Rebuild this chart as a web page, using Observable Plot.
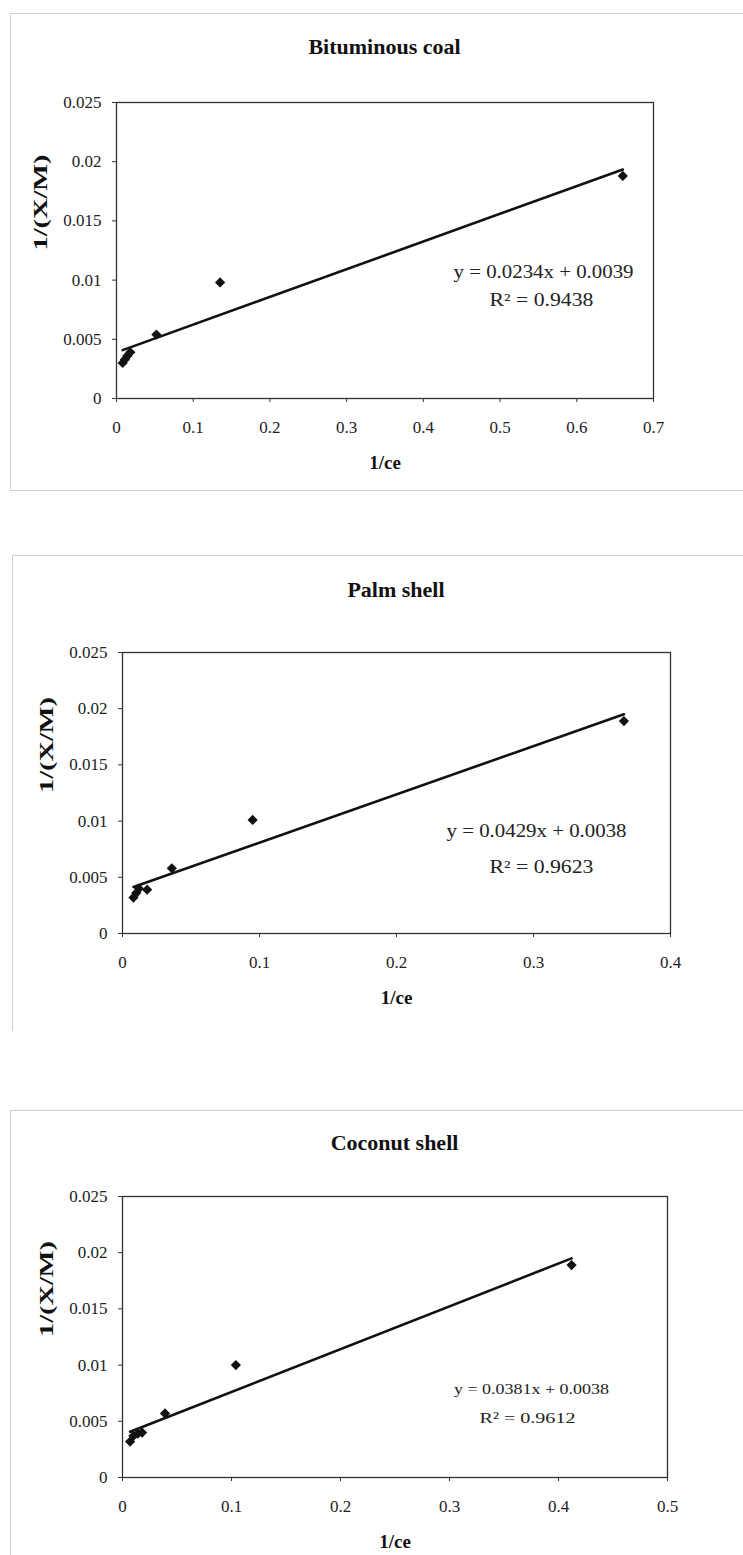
<!DOCTYPE html>
<html>
<head>
<meta charset="utf-8">
<script src="https://cdn.jsdelivr.net/npm/d3@7"></script>
<script src="https://cdn.jsdelivr.net/npm/@observablehq/plot@0.6"></script>
<style>
  html, body { margin: 0; padding: 0; background: #fff; }
  body { width: 743px; height: 1555px; position: relative; overflow: hidden; font-family: "Liberation Serif", "DejaVu Serif", serif; }
  .panel { position: absolute; border-top: 1px solid #cfcfcf; border-left: 1px solid #cfcfcf; }
  .title { position: absolute; font-weight: bold; font-size: 22px; color: #111; transform: translate(-50%, -50%); white-space: nowrap; }
  svg { overflow: visible; }
  svg text { font-family: "Liberation Serif", "DejaVu Serif", serif !important; font-variant: normal !important; }
</style>
</head>
<body>
<script>
// ---------- data ----------
const titles = ["Bituminous coal", "Palm shell", "Coconut shell"];

const coalX = [0.008, 0.011, 0.014, 0.018, 0.052, 0.135, 0.660];
const coalY = [0.0030, 0.0033, 0.0036, 0.0039, 0.0054, 0.0098, 0.0188];

const palmX = [0.008, 0.010, 0.012, 0.018, 0.036, 0.095, 0.366];
const palmY = [0.0032, 0.0036, 0.0040, 0.0039, 0.0058, 0.0101, 0.0189];

const cocoX = [0.007, 0.010, 0.014, 0.018, 0.039, 0.104, 0.412];
const cocoY = [0.0032, 0.0037, 0.0039, 0.0040, 0.0057, 0.0100, 0.0189];

const slopes = [0.0234, 0.0429, 0.0381];
const intercepts = [0.0039, 0.0038, 0.0038];
const equations = ["y = 0.0234x + 0.0039", "y = 0.0429x + 0.0038", "y = 0.0381x + 0.0038"];
const rSquared = ["R\u00B2 = 0.9438", "R\u00B2 = 0.9623", "R\u00B2 = 0.9612"];

const yTicks = [0, 0.005, 0.01, 0.015, 0.02, 0.025];
const coalXTicks = [0, 0.1, 0.2, 0.3, 0.4, 0.5, 0.6, 0.7];
const palmXTicks = [0, 0.1, 0.2, 0.3, 0.4];
const cocoXTicks = [0, 0.1, 0.2, 0.3, 0.4, 0.5];

const xLabel = "1/ce";
const yLabel = "1/(X/M)";

// ---------- layout (pixel geometry of each panel) ----------
const layouts = [
  {panel: {left: 10, top: 13, bottom: 489, bottomBorder: true}, titleY: 47, plotLeft: 116, plotRight: 653, plotTop: 102, plotBottom: 398,
   eq: {cx: 427, cy: 170, size: 18, len: 180}, r2: {cx: 425, cy: 198, len: 104}},
  {panel: {left: 12, top: 555, bottom: 1030, bottomBorder: false}, titleY: 590, plotLeft: 122, plotRight: 670, plotTop: 652, plotBottom: 933,
   eq: {cx: 414, cy: 179, size: 18, len: 180}, r2: {cx: 419, cy: 215, len: 104}},
  {panel: {left: 10, top: 1110, bottom: 1560, bottomBorder: false}, titleY: 1143, plotLeft: 122, plotRight: 667, plotTop: 1196, plotBottom: 1477,
   eq: {cx: 409, cy: 193, size: 15.5, len: 155}, r2: {cx: 405, cy: 222, len: 96}}
];

const series = [
  {xs: coalX, ys: coalY, xTicks: coalXTicks},
  {xs: palmX, ys: palmY, xTicks: palmXTicks},
  {xs: cocoX, ys: cocoY, xTicks: cocoXTicks}
];

const fmt = d => String(+(+d).toFixed(3));
const serif = "Liberation Serif, serif";

function stretch(svg, content, len, adjust) {
  svg.querySelectorAll("text").forEach(t => {
    if (t.textContent === content) {
      t.setAttribute("textLength", len);
      t.setAttribute("lengthAdjust", adjust);
    }
  });
}

series.forEach((s, i) => {
  const L = layouts[i];
  const panel = document.createElement("div");
  panel.className = "panel";
  panel.style.left = L.panel.left + "px";
  panel.style.top = L.panel.top + "px";
  panel.style.width = (760 - L.panel.left) + "px";
  panel.style.height = (L.panel.bottom - L.panel.top) + "px";
  if (L.panel.bottomBorder) panel.style.borderBottom = "1px solid #cfcfcf";
  document.body.appendChild(panel);

  const title = document.createElement("div");
  title.className = "title";
  title.textContent = titles[i];
  title.style.left = ((L.plotLeft + L.plotRight) / 2) + "px";
  title.style.top = L.titleY + "px";
  document.body.appendChild(title);

  const svgTop = L.plotTop - 20;
  const svgBottom = L.plotBottom + 80;
  const points = s.xs.map((x, k) => ({x, y: s.ys[k]}));
  const x0 = d3.min(s.xs), x1 = d3.max(s.xs);
  const fit = [x0, x1].map(x => ({x, y: slopes[i] * x + intercepts[i]}));

  const chart = Plot.plot({
    width: 743,
    height: svgBottom - svgTop,
    marginLeft: L.plotLeft,
    marginRight: 743 - L.plotRight,
    marginTop: L.plotTop - svgTop,
    marginBottom: svgBottom - L.plotBottom,
    style: {fontFamily: serif, fontSize: "17px", color: "#222", background: "transparent"},
    x: {domain: [0, d3.max(s.xTicks)]},
    y: {domain: [0, 0.025]},
    marks: [
      Plot.frame({stroke: "#333", strokeWidth: 1.3}),
      Plot.axisY({ticks: yTicks, tickFormat: fmt, tickSize: 4, tickPadding: 11, label: null, fontSize: 17, fontFamily: serif, stroke: "#333"}),
      Plot.axisX({ticks: s.xTicks, tickFormat: fmt, tickSize: 4, tickPadding: 18, label: null, fontSize: 17, fontFamily: serif, stroke: "#333"}),
      Plot.text([yLabel], {frameAnchor: "left", rotate: -90, dx: -76, fontWeight: "bold", fontSize: 19, fontFamily: serif, fill: "#111"}),
      Plot.text([xLabel], {frameAnchor: "bottom", dy: 70, fontWeight: "bold", fontSize: 19, fontFamily: serif, fill: "#111"}),
      Plot.line(fit, {x: "x", y: "y", stroke: "#111", strokeWidth: 2.6}),
      Plot.dot(points, {x: "x", y: "y", symbol: "diamond2", r: 4.6, fill: "#111", stroke: "none"}),
      Plot.text([equations[i]], {frameAnchor: "top-left", textAnchor: "middle", lineAnchor: "middle", dx: L.eq.cx, dy: L.eq.cy, fontSize: L.eq.size, fontFamily: serif, fill: "#222"}),
      Plot.text([rSquared[i]], {frameAnchor: "top-left", textAnchor: "middle", lineAnchor: "middle", dx: L.r2.cx, dy: L.r2.cy, fontSize: L.eq.size, fontFamily: serif, fill: "#222"})
    ]
  });
  stretch(chart, yLabel, 96, "spacingAndGlyphs");
  stretch(chart, equations[i], L.eq.len, "spacingAndGlyphs");
  stretch(chart, rSquared[i], L.r2.len, "spacingAndGlyphs");
  chart.style.position = "absolute";
  chart.style.top = svgTop + "px";
  chart.style.left = "0px";
  document.body.appendChild(chart);
});
</script>
</body>
</html>
